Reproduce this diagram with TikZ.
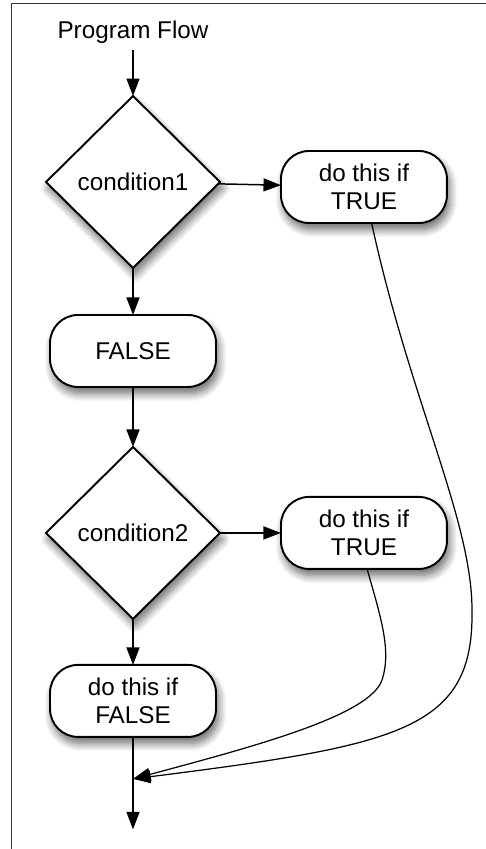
\documentclass[tikz,border=0pt]{standalone}
\usepackage{fontspec}
\setmainfont{Liberation Sans}
\usetikzlibrary{positioning,arrows.meta,shapes.geometric,shadows.blur}

\begin{document}
\begin{tikzpicture}[
  x=0.02cm,y=-0.02cm,
  font=\fontsize{13.8}{16}\selectfont,
  shade/.style={blur shadow={shadow blur steps=10,shadow xshift=0.5mm,
                shadow yshift=-1.3mm,shadow opacity=60,shadow blur radius=1.6mm}},
  test/.style={diamond,draw,fill=white,line width=1.1pt,aspect=1,inner sep=0pt,
               outer sep=0pt,minimum width=3.48cm,minimum height=3.44cm,shade},
  act/.style={draw,fill=white,line width=1.1pt,rounded corners=0.56cm,outer sep=0pt,
              minimum width=3.32cm,minimum height=1.44cm,align=center,shade},
  ar/.style={-{Triangle[length=3.5mm,width=2.6mm]},line width=0.85pt},
  back/.style={-{Triangle[length=3.5mm,width=2.6mm]},line width=0.7pt},
  frame/.style={draw=black!80,line width=0.5pt}
]
\useasboundingbox (0,0) rectangle (486,849);
\draw[frame] (11,849) -- (11,3) -- (486,3);

\node (flow) at (133,32) {Program Flow};
\node[test] (c1) at (133,182) {condition1};
\node[act,right=1.22cm of c1,yshift=-0.1cm] (t1) {do this if\\TRUE};
\node[act,below=0.94cm of c1] (f1) {FALSE};
\node[test,below=1.2cm of f1] (c2) {condition2};
\node[act,right=1.22cm of c2] (t2) {do this if\\TRUE};
\node[act,below=0.92cm of c2] (f2) {do this if\\FALSE};
\coordinate[below=0.84cm of f2] (join);
\coordinate[below=1.85cm of f2] (exit);

\draw[ar] (flow) -- (c1);
\draw[ar] (c1) -- (t1);
\draw[ar] (c1) -- (f1);
\draw[ar] (f1) -- (c2);
\draw[ar] (c2) -- (t2);
\draw[ar] (c2) -- (f2);
\draw[ar] (f2) -- (exit);

% both TRUE branches rejoin below the last box
\draw[back] (t1.-78) .. controls (410,400) and (472,520) .. (472,610)
  .. controls (474,730) and (400,745) .. (join);
\draw[back] (t2.-85) .. controls (380,615) and (392,650) .. (382,680)
  .. controls (370,715) and (260,745) .. (join);
\end{tikzpicture}
\end{document}
